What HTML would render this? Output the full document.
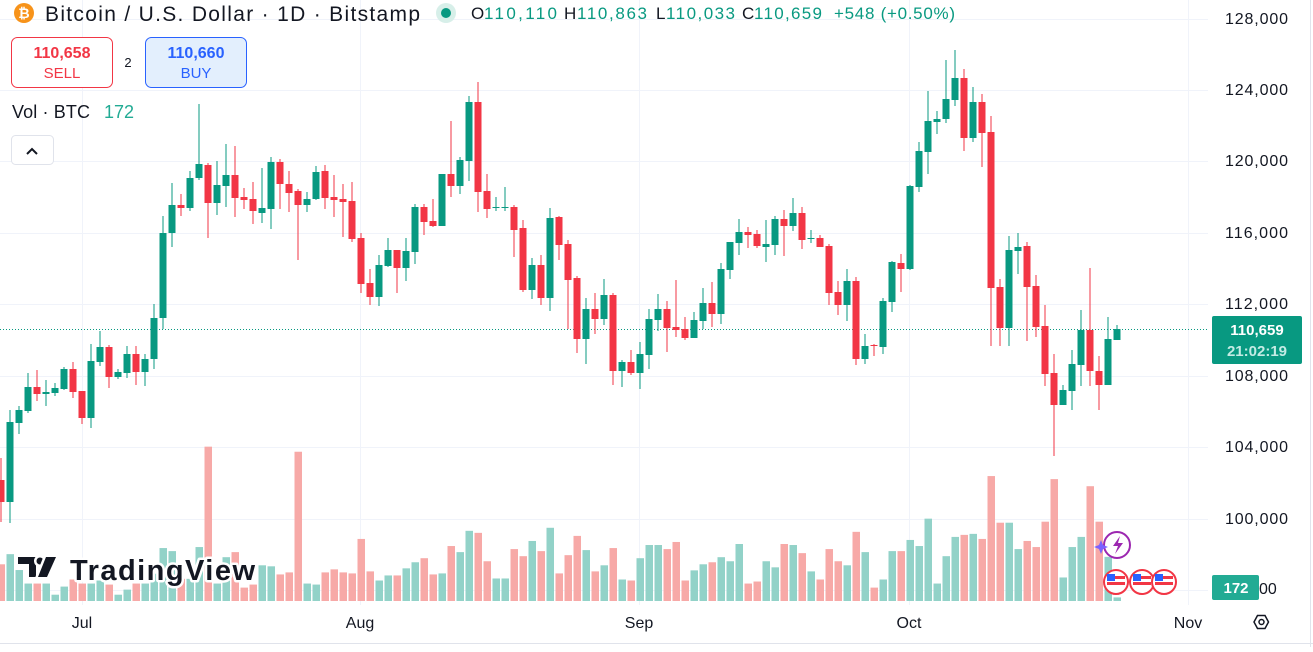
<!DOCTYPE html>
<html><head><meta charset="utf-8">
<style>
html,body{margin:0;padding:0;background:#fff;}
body{width:1313px;height:647px;overflow:hidden;font-family:"Liberation Sans",sans-serif;}
svg text{font-family:"Liberation Sans",sans-serif;}
</style></head>
<body>
<svg id="s" width="1313" height="647" viewBox="0 0 1313 647" xmlns="http://www.w3.org/2000/svg">
<rect width="1313" height="647" fill="#fff"/>
<g id="grid" stroke="#f0f3fa" stroke-width="1"></g>
<g id="vol"></g>
<line x1="0" y1="329.5" x2="1208" y2="329.5" stroke="#089981" stroke-width="1" stroke-dasharray="1,2"/>
<g id="cdl"></g>
<!-- TradingView logo -->
<g stroke="#fff" stroke-width="5" paint-order="stroke" stroke-linejoin="round">
<path d="M18 557h18v20h-7v-13h-11z" fill="#131722"/>
<circle cx="40" cy="561" r="3.5" fill="#131722"/>
<path d="M46 557h10l-9 20h-9z" fill="#131722"/>
<text x="70" y="580" font-size="29" font-weight="bold" fill="#131722" textLength="185">TradingView</text>
</g>
<!-- icons bottom right -->
<g>
<circle cx="1117" cy="545" r="13" fill="#fff" stroke="#9c27b0" stroke-width="2"/>
<path d="M1120 536l-7 10h5l-3 8 8-11h-5z" fill="#9c27b0"/>
<path d="M1101 540l2 5 5 2-5 2-2 5-2-5-5-2 5-2z" fill="#7b61ff"/>
<g id="flags"></g>
</g>
<!-- header -->
<circle cx="24" cy="13" r="10" fill="#f7931a"/>
<text x="24" y="18" font-size="14" font-weight="bold" fill="#fff" text-anchor="middle">₿</text>
<text x="45" y="21" font-size="21" fill="#131722" textLength="375">Bitcoin / U.S. Dollar · 1D · Bitstamp</text>
<circle cx="446" cy="13" r="10" fill="#d7efe9"/>
<circle cx="446" cy="13" r="5" fill="#089981"/>
<g font-size="17">
<text x="471" y="19" fill="#131722">O</text><text x="484" y="19" fill="#089981" textLength="73">110,110</text>
<text x="564" y="19" fill="#131722">H</text><text x="577" y="19" fill="#089981" textLength="70">110,863</text>
<text x="656" y="19" fill="#131722">L</text><text x="666" y="19" fill="#089981" textLength="69">110,033</text>
<text x="742" y="19" fill="#131722">C</text><text x="754" y="19" fill="#089981" textLength="68">110,659</text>
<text x="834" y="19" fill="#089981" textLength="121">+548 (+0.50%)</text>
</g>
<rect x="11.5" y="37.5" width="101" height="50" rx="6" fill="#fff" stroke="#f23645"/>
<text x="62" y="58" font-size="16" font-weight="bold" fill="#f23645" text-anchor="middle">110,658</text>
<text x="62" y="78" font-size="15" fill="#f23645" text-anchor="middle">SELL</text>
<text x="128" y="67" font-size="13" fill="#131722" text-anchor="middle">2</text>
<rect x="145.5" y="37.5" width="101" height="50" rx="6" fill="#e3effd" stroke="#2962ff"/>
<text x="196" y="58" font-size="16" font-weight="bold" fill="#2962ff" text-anchor="middle">110,660</text>
<text x="196" y="78" font-size="15" fill="#2962ff" text-anchor="middle">BUY</text>
<text x="12" y="118" font-size="18" fill="#131722" textLength="78">Vol · BTC</text>
<text x="104" y="118" font-size="18" fill="#22ab94" textLength="30">172</text>
<rect x="11.5" y="135.5" width="42" height="29" rx="4" fill="#fff" stroke="#e0e3eb"/>
<path d="M27 154l5-5 5 5" fill="none" stroke="#131722" stroke-width="2"/>
<!-- right axis -->
<g id="axis" font-size="16" fill="#131722"></g>
<rect x="1212" y="316" width="90" height="48" rx="2" fill="#089981"/>
<text x="1257" y="335" font-size="15" font-weight="bold" fill="#fff" text-anchor="middle">110,659</text>
<text x="1257" y="356" font-size="15" font-weight="bold" fill="#c4ebe4" text-anchor="middle">21:02:19</text>
<rect x="1212" y="575" width="47" height="25" rx="2" fill="#22ab94"/>
<text x="1236" y="593" font-size="15" font-weight="bold" fill="#fff" text-anchor="middle">172</text>
<text x="1259" y="594" font-size="16" fill="#131722">00</text>
<line x1="1310.5" y1="0" x2="1310.5" y2="647" stroke="#e0e3eb"/>
<line x1="0" y1="643.5" x2="1313" y2="643.5" stroke="#e0e3eb"/>
<!-- bottom axis -->
<g font-size="16" fill="#131722" text-anchor="middle">
<text x="82" y="628">Jul</text><text x="360" y="628">Aug</text><text x="639" y="628">Sep</text><text x="909" y="628">Oct</text><text x="1188" y="628">Nov</text>
</g>
<path d="M1254 622l3.5-6.5h7.5l3.5 6.5-3.5 6.5h-7.5z" fill="none" stroke="#131722" stroke-width="1.5"/>
<circle cx="1261.5" cy="622" r="2.5" fill="none" stroke="#131722" stroke-width="1.5"/>
</svg>
<script>
var NS="http://www.w3.org/2000/svg";
function el(p,t,a){var e=document.createElementNS(NS,t);for(var k in a)e.setAttribute(k,a[k]);p.appendChild(e);return e;}
var grid=document.getElementById('grid');
[19,90,161,233,304,376,447,519,590].forEach(function(y){el(grid,'line',{x1:0,y1:y+.5,x2:1208,y2:y+.5});});
[82,360,639,909,1188].forEach(function(x){el(grid,'line',{x1:x+.5,y1:0,x2:x+.5,y2:605});});
var ax=document.getElementById('axis');
var labs=[[19,'128,000'],[90,'124,000'],[161,'120,000'],[233,'116,000'],[304,'112,000'],[376,'108,000'],[447,'104,000'],[519,'100,000']];
labs.forEach(function(l){var t=el(ax,'text',{x:1225,y:l[0]+5,textLength:63});t.textContent=l[1];});
var C=[[480,502,458,522,'r'],[422,502,410,523,'g'],[410,423,406,434,'g'],[387,411,373,413,'g'],[387,394,370,401,'r'],[392,394,380,406,'g'],[388,393,383,396,'g'],[369,389,367,390,'g'],[369,392,362,398,'r'],[391,418,391,424,'r'],
[361,418,344,428,'g'],[347,362,331,366,'g'],[347,377,345,388,'r'],[372,377,369,379,'g'],[354,373,346,378,'g'],[354,372,346,385,'r'],[359,372,354,386,'g'],[318,359,304,369,'g'],[233,318,216,329,'g'],[205,233,183,247,'g'],
[205,208,194,216,'r'],[178,208,171,211,'g'],[164,178,104,180,'g'],[165,203,163,238,'r'],[185,203,161,215,'g'],[175,186,144,207,'g'],[175,198,146,217,'r'],[197,200,188,209,'r'],[199,211,182,224,'r'],[208,213,168,223,'g'],
[162,209,157,229,'g'],[162,184,159,209,'r'],[184,193,171,212,'r'],[191,205,189,260,'r'],[199,205,192,212,'g'],[172,199,166,200,'g'],[171,198,165,209,'r'],[197,200,175,217,'r'],[199,202,184,237,'r'],[201,239,182,242,'r'],
[238,284,233,293,'r'],[283,297,269,305,'r'],[265,297,255,306,'g'],[250,266,238,267,'g'],[250,268,250,293,'r'],[251,268,238,281,'g'],[207,252,204,264,'g'],[207,222,204,235,'r'],[221,226,199,227,'r'],[174,226,174,226,'g'],
[174,186,121,197,'r'],[160,186,157,194,'g'],[102,161,96,181,'g'],[102,192,82,212,'r'],[191,209,174,218,'r'],[207,208,197,211,'g'],[207,208,187,211,'g'],[207,230,205,257,'r'],[228,290,220,292,'r'],[265,290,258,299,'g'],
[265,298,255,305,'r'],[218,298,208,311,'g'],[217,245,216,260,'r'],[244,280,240,329,'r'],[278,339,276,353,'r'],[309,339,298,364,'g'],[309,319,293,334,'r'],[295,319,279,325,'g'],[295,371,293,385,'r'],[362,371,360,387,'g'],
[362,373,350,375,'r'],[354,373,342,389,'g'],[319,355,309,369,'g'],[309,320,294,331,'g'],[309,328,301,352,'r'],[327,330,280,337,'r'],[329,338,317,340,'r'],[320,338,312,338,'g'],[303,321,288,329,'g'],[303,314,282,327,'r'],
[269,314,263,324,'g'],[242,270,242,279,'g'],[232,243,219,255,'g'],[232,235,227,248,'r'],[234,246,230,248,'r'],[244,247,220,262,'g'],[219,245,216,255,'g'],[219,226,210,256,'r'],[213,226,198,231,'g'],[213,240,207,249,'r'],
[238,239,230,243,'g'],[238,247,235,247,'r'],[246,293,244,305,'r'],[292,305,281,315,'r'],[281,305,269,321,'g'],[281,359,277,365,'r'],[346,359,334,364,'g'],[345,346,344,356,'r'],[301,347,298,354,'g'],[262,302,261,312,'g'],
[263,269,254,292,'r'],[186,269,185,270,'g'],[151,187,142,192,'g'],[121,152,91,174,'g'],[119,122,111,134,'g'],[99,119,60,123,'g'],[78,100,50,106,'g'],[78,138,69,151,'r'],[102,138,87,142,'g'],[102,133,94,167,'r'],
[132,288,116,346,'r'],[287,328,279,346,'r'],[250,328,236,346,'g'],[247,251,233,274,'g'],[246,287,242,341,'r'],[286,327,275,337,'r'],[326,374,305,386,'r'],[373,405,354,456,'r'],[390,405,385,405,'g'],[364,391,350,410,'g'],
[330,365,310,386,'g'],[330,371,268,386,'r'],[371,385,356,410,'r'],[339,385,317,385,'g'],[329,340,325,340,'g']];
var V=[372,342,389,429,429,429,462,438,417,429,429,420,432,462,447,429,429,400,324,333,415,415,321,24,429,351,336,441,432,375,378,402,396,39,429,432,396,387,396,399,297,393,420,405,405,384,366,354,402,399,318,336,273,279,363,414,414,327,348,303,333,264,399,345,288,330,393,
375,324,417,420,354,315,315,327,306,420,390,372,366,351,363,312,429,423,363,381,312,315,339,393,417,327,363,375,276,336,441,417,333,333,300,318,237,429,348,291,285,282,297,111,249,249,327,303,321,246,120,411,321,291,141,246,350,470];
var cg=document.getElementById('cdl'),vg=document.getElementById('vol');
C.forEach(function(c,k){
 var x=1+9*k,col=c[4]=='g'?'#089981':'#f23645',vc=c[4]=='g'?'#92d2c8':'#f7a9a7';
 var vt=447+(V[k]-25)*0.338;
 el(vg,'rect',{x:x-3.5,y:vt,width:7.5,height:601-vt,fill:vc});
 el(cg,'rect',{x:x-0.5,y:c[2],width:1,height:Math.max(1,c[3]-c[2]),fill:col});
 el(cg,'rect',{x:x-3.5,y:c[0],width:7,height:Math.max(1,c[1]-c[0]),fill:col});
});
var fg=document.getElementById('flags');
[1116,1142,1164].forEach(function(x){
 el(fg,'circle',{cx:x,cy:582,r:12,fill:'#fff',stroke:'#f23645','stroke-width':2});
 el(fg,'rect',{x:x-9,y:576,width:18,height:3,fill:'#f23645'});
 el(fg,'rect',{x:x-9,y:582,width:18,height:3,fill:'#f23645'});
 el(fg,'rect',{x:x-9,y:574,width:8,height:7,fill:'#2962ff'});
});
</script>
</body></html>
